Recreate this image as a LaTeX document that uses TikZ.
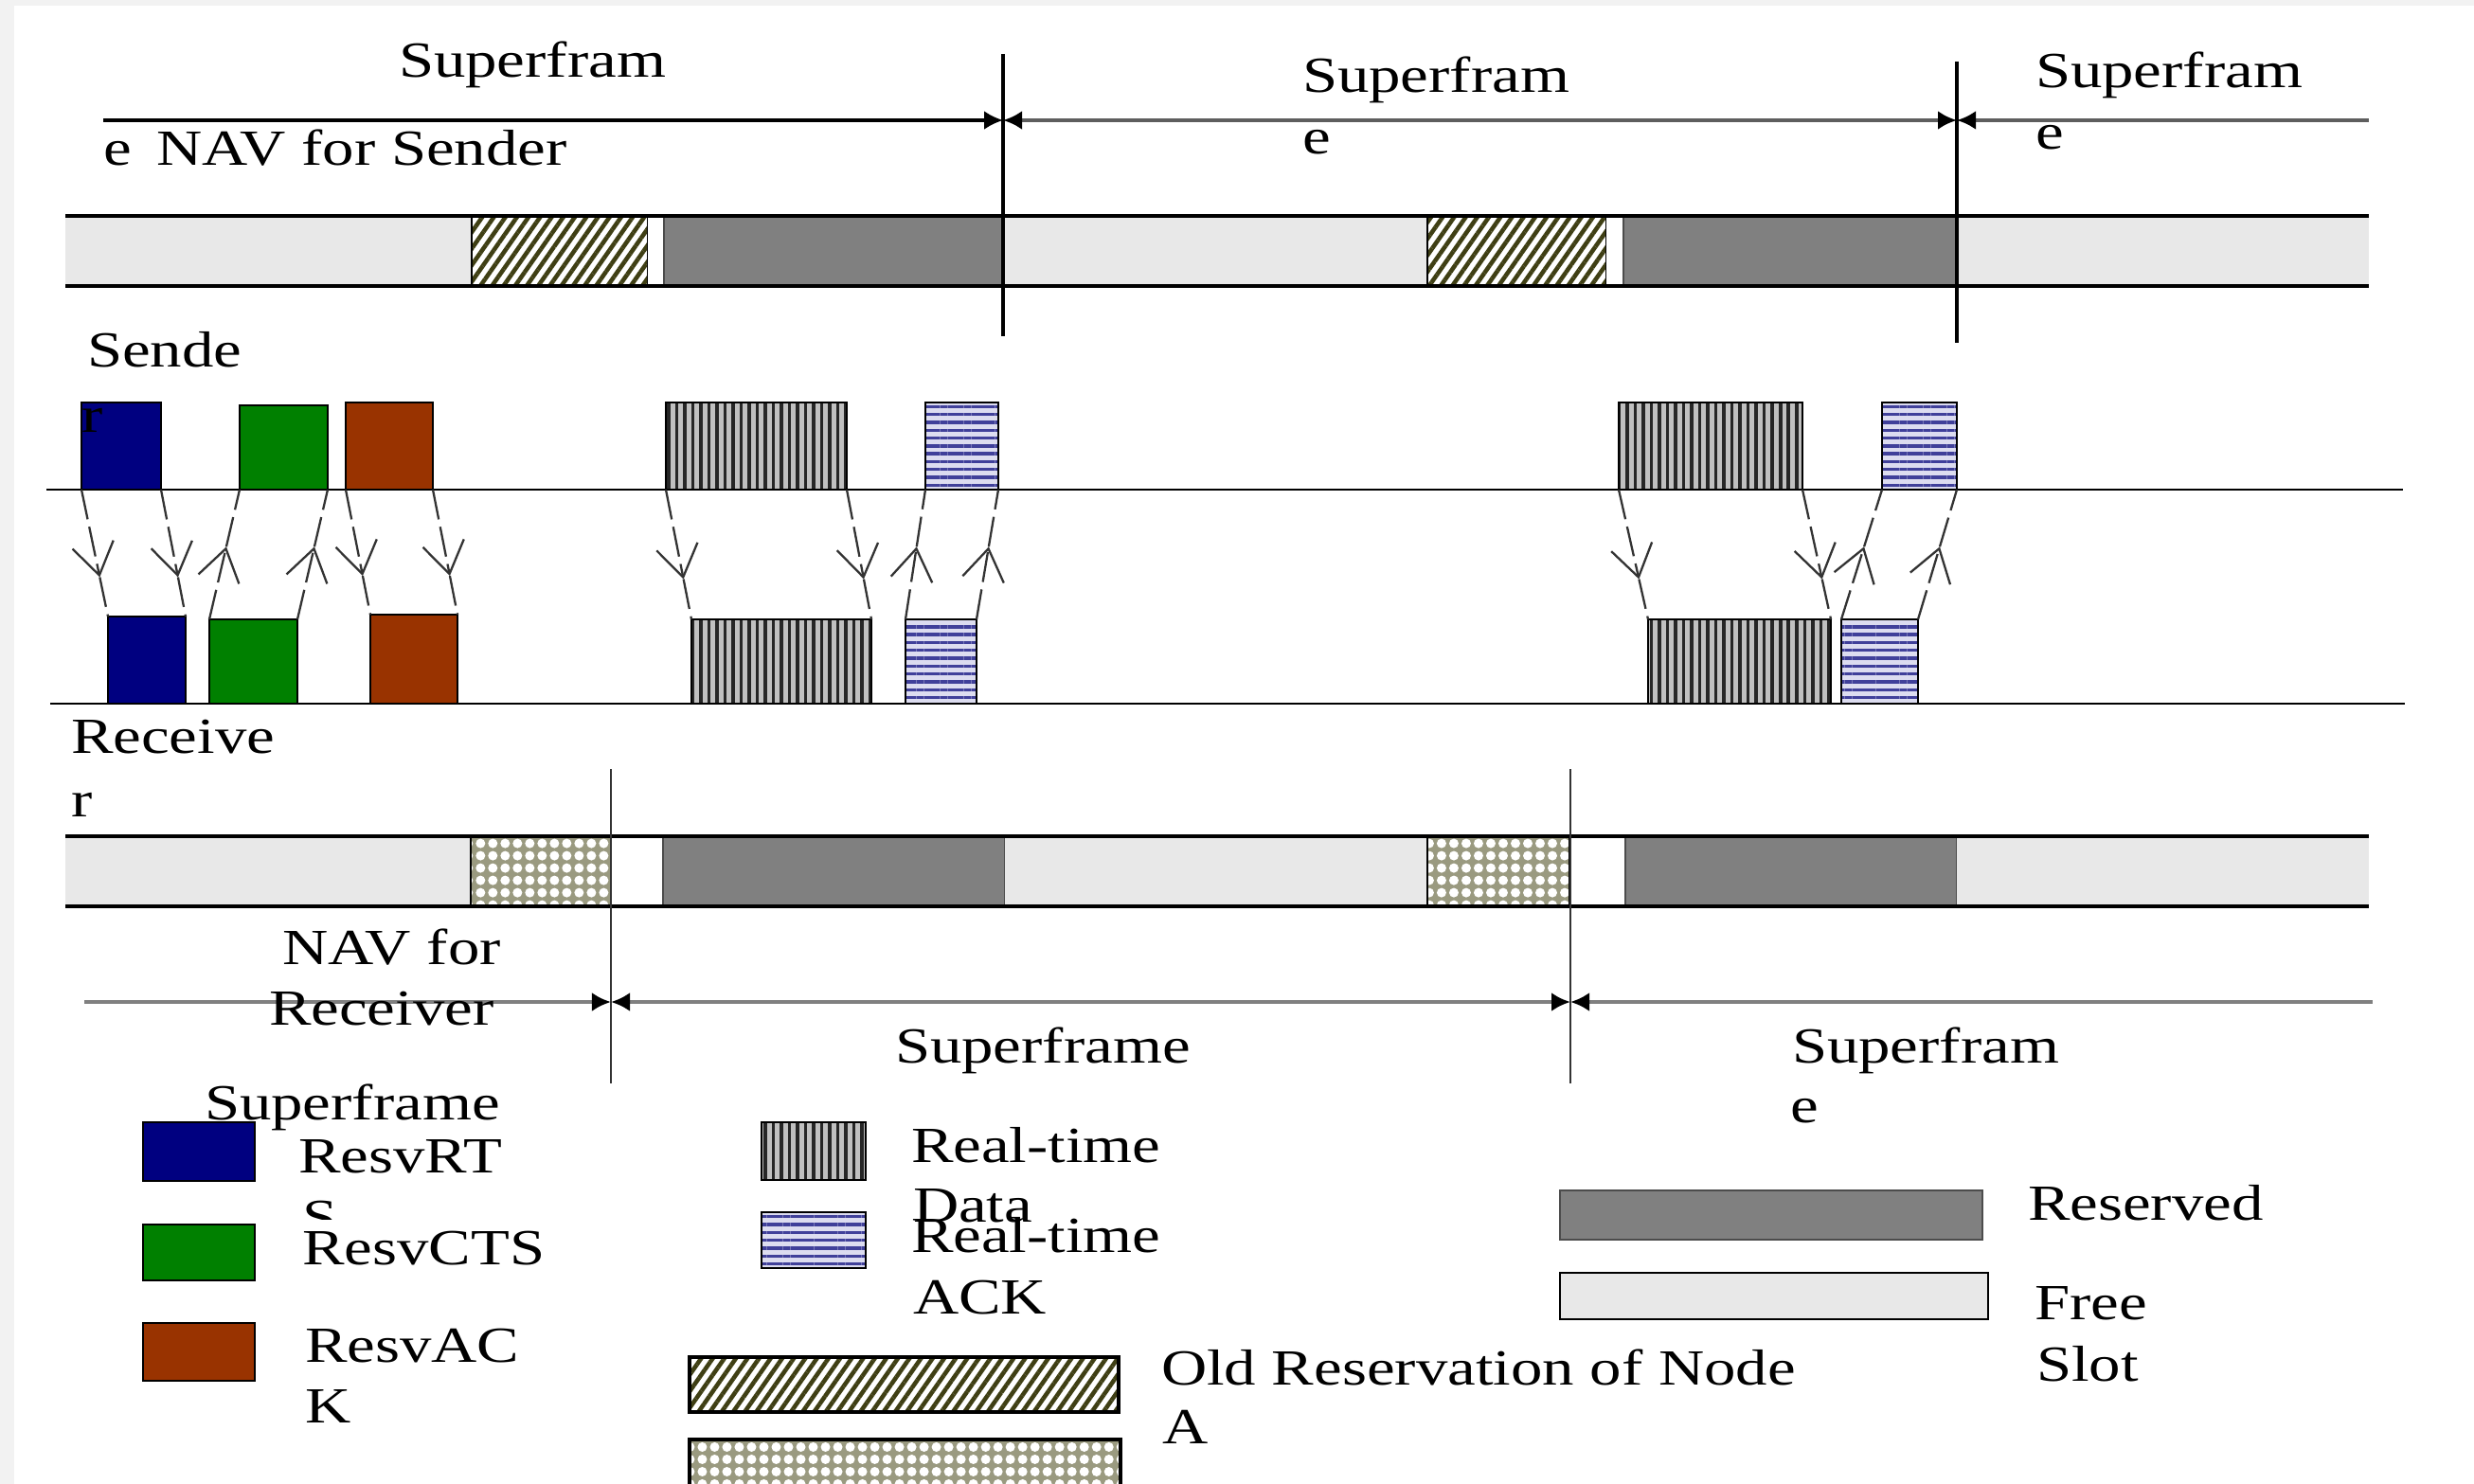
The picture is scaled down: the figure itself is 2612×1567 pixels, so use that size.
\documentclass[tikz,border=0pt]{standalone}
\usepackage{fontspec}
\setmainfont[FakeStretch=1.25]{Liberation Serif}
\usetikzlibrary{arrows.meta,patterns.meta,calc,fit}
\definecolor{rtsblue}{HTML}{000080}
\definecolor{ctsgreen}{HTML}{008000}
\definecolor{ackbrown}{HTML}{993300}
\definecolor{resgray}{HTML}{808080}
\definecolor{freegray}{HTML}{E8E8E8}
\definecolor{hatchcol}{HTML}{3F3F14}
\definecolor{meshcol}{HTML}{9A9A80}
\definecolor{ackblue}{HTML}{40409A}
\definecolor{acklight}{HTML}{DCDCF0}
\definecolor{datalight}{HTML}{C0C0C0}
\definecolor{edgegray}{HTML}{F2F2F2}
\definecolor{dimgray}{HTML}{5E5E5E}
\tikzset{
  lbl/.style={inner sep=0pt, outer sep=0pt, anchor=base west, font=\fontsize{15.2}{18}\selectfont},
  blk/.style={inner sep=0pt, outer sep=0pt, draw=black, line width=0.8pt},
  rts/.style={blk, fill=rtsblue},
  cts/.style={blk, fill=ctsgreen},
  ackc/.style={blk, fill=ackbrown},
  rtdata/.style={blk, preaction={fill=datalight}, pattern={Lines[angle=90,distance=0.085cm,line width=1pt]}, pattern color=black!85},
  rtack/.style={blk, preaction={fill=acklight}, pattern={Lines[angle=0,distance=0.083cm,line width=0.95pt]}, pattern color=ackblue},
  oldres/.style={preaction={fill=white}, pattern={Lines[angle=55,distance=0.1cm,line width=1.3pt]}, pattern color=hatchcol},
  mesh/.style={preaction={fill=meshcol}, pattern={Dots[distance=0.13cm,radius=0.05cm]}, pattern color=white},
  resv/.style={fill=resgray, draw=black!70, line width=0.8pt},
  msg/.style={draw=black!80, line width=0.65pt, dash pattern=on 0.32cm off 0.08cm},
  tipv/.style={-{Straight Barb[length=0.33cm,width=0.44cm]}},
  barline/.style={line width=1pt, draw=black},
  dimtip/.tip={Latex[length=0.2cm,width=0.2cm,color=black]},
}
\newcommand\downmsg[2]{\draw[msg,tipv] (#1) -- ($(#1)!0.69!(#2)$); \draw[msg] ($(#1)!0.69!(#2)$) -- (#2);}
\newcommand\upmsg[2]{\draw[msg,tipv] (#1) -- ($(#1)!0.56!(#2)$); \draw[msg] ($(#1)!0.56!(#2)$) -- (#2);}
\begin{document}
\begin{tikzpicture}[x=0.01cm,y=-0.01cm]
\useasboundingbox (0,0) rectangle (2612,1567);
\clip (0,0) rectangle (2612,1567);
\fill[white] (0,0) rectangle (2612,1567);
\fill[edgegray] (0,0) rectangle (15,1567);
\fill[edgegray] (0,0) rectangle (2612,6);

% ---------- top superframe dimension line ----------
\coordinate (tdA) at (109,127);
\coordinate (tdB) at (1059,127);
\coordinate (tdC) at (2066,127);
\coordinate (tdD) at (2501,127);
\draw[line width=1pt, -dimtip] (tdA) -- (tdB);
\draw[dimgray, line width=1.3pt, dimtip-dimtip] (tdB) -- (tdC);
\draw[dimgray, line width=1.3pt, dimtip-] (tdC) -- (tdD);

\node[lbl] (sf1) at (421,82) {Superfram};
\node[lbl] (navs) at (109,175) {e\hspace{0.27cm}NAV for Sender};
\node[lbl] (sf2) at (1375,98) {Superfram};
\node[lbl] (sf2e) at (1375,163) {e};
\node[lbl] (sf3) at (2149,93) {Superfram};
\node[lbl] (sf3e) at (2149,158) {e};

% ---------- sender NAV bar ----------
\fill[freegray] (69,228) rectangle (498,302);
\path[oldres, draw=black, line width=0.8pt] (498,228) rectangle (684,302);
\fill[white] (684,228) rectangle (701,302);
\path[resv] (701,228) rectangle (1059,302);
\fill[freegray] (1059,228) rectangle (1507,302);
\path[oldres, draw=black, line width=0.8pt] (1507,228) rectangle (1696,302);
\fill[white] (1696,228) rectangle (1714,302);
\path[resv] (1714,228) rectangle (2066,302);
\fill[freegray] (2066,228) rectangle (2501,302);
\draw[barline] (69,228) -- (2501,228);
\draw[barline] (69,302) -- (2501,302);

% top vertical superframe boundaries
\coordinate (tv1a) at (1059,57); \coordinate (tv1b) at (1059,355);
\coordinate (tv2a) at (2066,65); \coordinate (tv2b) at (2066,362);
\draw[line width=1pt] (tv1a) -- (tv1b);
\draw[line width=0.9pt] (tv2a) -- (tv2b);

% ---------- sender / receiver time lines ----------
\coordinate (sl1) at (49,517); \coordinate (sl2) at (2537,517);
\coordinate (rl1) at (53,743); \coordinate (rl2) at (2539,743);
\draw[line width=0.8pt] (sl1) -- (sl2);
\draw[line width=0.8pt] (rl1) -- (rl2);

% sender blocks
\node[rts,  fit={(86,425) (170,517)}] (sRTS) {};
\node[cts,  fit={(253,428) (346,517)}] (sCTS) {};
\node[ackc, fit={(365,425) (457,517)}] (sACK) {};
\node[rtdata, fit={(703,425) (894,517)}] (sD1) {};
\node[rtack,  fit={(977,425) (1054,517)}] (sA1) {};
\node[rtdata, fit={(1709,425) (1903,517)}] (sD2) {};
\node[rtack,  fit={(1987,425) (2066,517)}] (sA2) {};
\node[lbl] (sendA) at (92,388) {Sende};
\node[lbl] (sendB) at (86,457) {r};

% receiver blocks
\node[rts,  fit={(114,651) (196,743)}] (rRTS) {};
\node[cts,  fit={(221,654) (314,743)}] (rCTS) {};
\node[ackc, fit={(391,649) (483,743)}] (rACK) {};
\node[rtdata, fit={(730,654) (920,743)}] (rD1) {};
\node[rtack,  fit={(956,654) (1031,743)}] (rA1) {};
\node[rtdata, fit={(1740,654) (1933,743)}] (rD2) {};
\node[rtack,  fit={(1944,654) (2025,743)}] (rA2) {};

% message arrows
\downmsg{sRTS.south west}{rRTS.north west}
\downmsg{sRTS.south east}{rRTS.north east}
\upmsg{rCTS.north west}{sCTS.south west}
\upmsg{rCTS.north east}{sCTS.south east}
\downmsg{sACK.south west}{rACK.north west}
\downmsg{sACK.south east}{rACK.north east}
\downmsg{sD1.south west}{rD1.north west}
\downmsg{sD1.south east}{rD1.north east}
\upmsg{rA1.north west}{sA1.south west}
\upmsg{rA1.north east}{sA1.south east}
\downmsg{sD2.south west}{rD2.north west}
\downmsg{sD2.south east}{rD2.north east}
\upmsg{rA2.north west}{sA2.south west}
\upmsg{rA2.north east}{sA2.south east}

% ---------- receiver NAV bar ----------
\node[lbl] (recvA) at (75,795) {Receive};
\node[lbl] (recvB) at (75,862) {r};
\fill[freegray] (69,883) rectangle (497,957);
\path[mesh, draw=black, line width=0.8pt] (497,883) rectangle (645,957);
\fill[white] (645,883) rectangle (700,957);
\path[resv] (700,883) rectangle (1061,957);
\fill[freegray] (1061,883) rectangle (1507,957);
\path[mesh, draw=black, line width=0.8pt] (1507,883) rectangle (1657,957);
\fill[white] (1657,883) rectangle (1716,957);
\path[resv] (1716,883) rectangle (2066,957);
\fill[freegray] (2066,883) rectangle (2501,957);
\draw[barline] (69,883) -- (2501,883);
\draw[barline] (69,957) -- (2501,957);

\coordinate (bv1a) at (645,812); \coordinate (bv1b) at (645,1144);
\coordinate (bv2a) at (1658,812); \coordinate (bv2b) at (1658,1144);
\draw[black!80, line width=0.7pt] (bv1a) -- (bv1b);
\draw[black!80, line width=0.7pt] (bv2a) -- (bv2b);

% bottom superframe dimension line
\coordinate (bdA) at (89,1058);
\coordinate (bdB) at (645,1058);
\coordinate (bdC) at (1658,1058);
\coordinate (bdD) at (2505,1058);
\draw[resgray, line width=1.4pt, -dimtip] (bdA) -- (bdB);
\draw[resgray, line width=1.4pt, dimtip-dimtip] (bdB) -- (bdC);
\draw[resgray, line width=1.4pt, dimtip-] (bdC) -- (bdD);

\node[lbl] (navrA) at (298,1018) {NAV for};
\node[lbl] (navrB) at (284,1082) {Receiver};
\node[lbl] (sf4) at (945,1122) {Superframe};
\node[lbl] (sf5) at (1892,1122) {Superfram};
\node[lbl] (sf5e) at (1890,1185) {e};
\node[lbl] (sf6) at (216,1182) {Superframe};

% ---------- legend ----------
\node[rts,  fit={(151,1185) (269,1247)}] (lgRTS) {};
\node[cts,  fit={(151,1293) (269,1352)}] (lgCTS) {};
\node[ackc, fit={(151,1397) (269,1458)}] (lgACK) {};
\node[lbl] (tRTS) at (315,1238) {ResvRT};
\begin{scope}
  \clip (300,1250) rectangle (420,1287);
  \node[lbl] (tRTSs) at (319,1303) {S};
\end{scope}
\node[lbl] (tCTS) at (319,1335) {ResvCTS};
\node[lbl] (tACK) at (322,1438) {ResvAC};
\node[lbl] (tACKk) at (322,1502) {K};

\node[rtdata, fit={(804,1185) (914,1246)}] (lgData) {};
\node[rtack,  fit={(804,1280) (914,1339)}] (lgAck) {};
\node[lbl] (tData) at (962,1227) {Real-time};
\node[lbl] (tDatab) at (964,1290) {Data};
\node[lbl] (tAck) at (962,1322) {Real-time};
\node[lbl] (tAckb) at (964,1387) {ACK};

\node[oldres, draw=black, line width=1pt, inner sep=0pt, fit={(728,1433) (1181,1491)}] (lgOld) {};
\node[mesh, draw=black, line width=1pt, inner sep=0pt, fit={(728,1520) (1183,1600)}] (lgMesh) {};
\node[lbl] (tOld) at (1226,1462) {Old Reservation of Node};
\node[lbl] (tOldA) at (1227,1524) {A};

\node[resv, inner sep=0pt, fit={(1647,1257) (2093,1309)}] (lgRes) {};
\node[fill=freegray, draw=black, line width=0.8pt, inner sep=0pt, fit={(1647,1344) (2099,1393)}] (lgFree) {};
\node[lbl] (tRes) at (2141,1288) {Reserved};
\node[lbl] (tFree) at (2148,1393) {Free};
\node[lbl] (tSlot) at (2150,1458) {Slot};
\end{tikzpicture}
\end{document}
